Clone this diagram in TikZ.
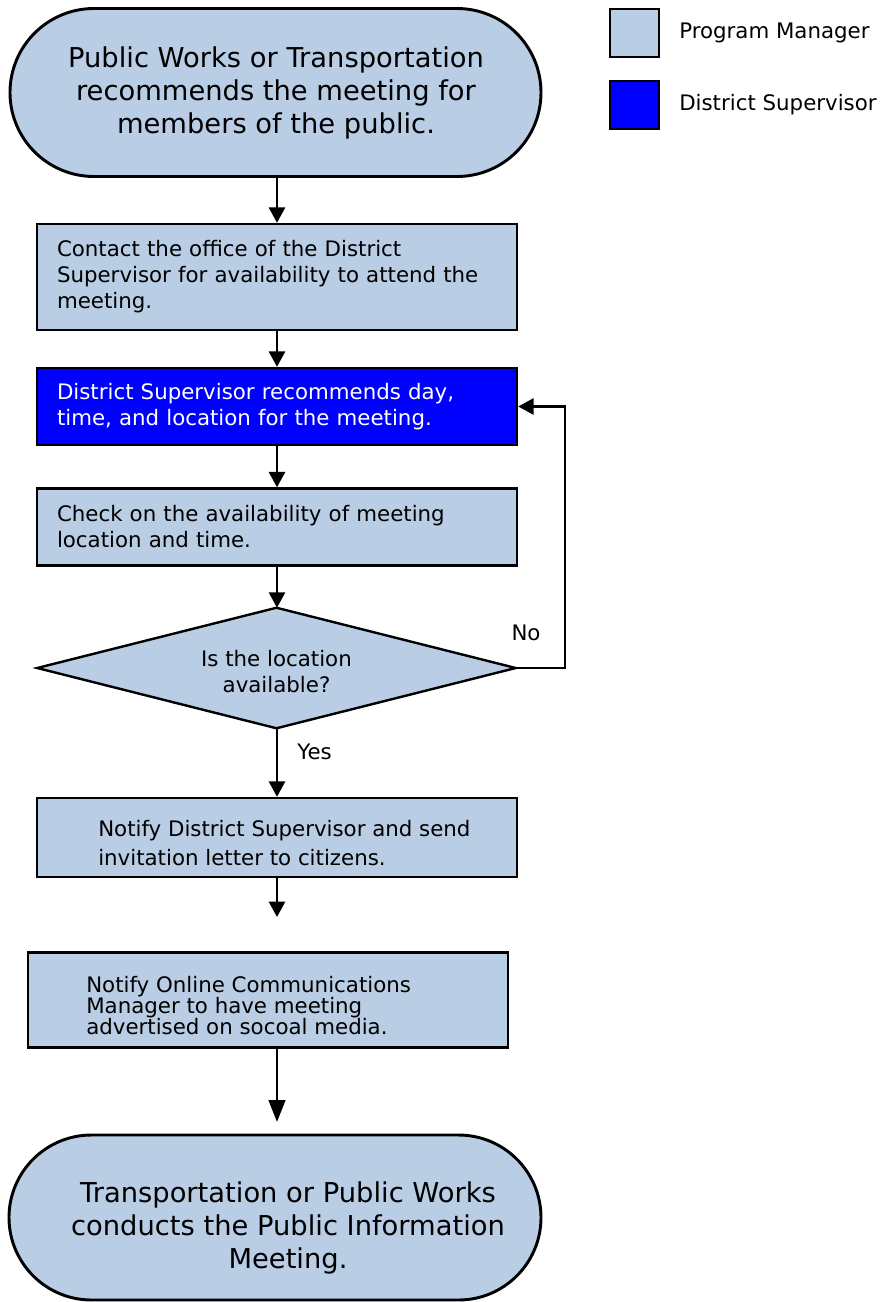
\documentclass[tikz,border=0pt]{standalone}
\usepackage{fontspec}
\setmainfont{DejaVu Sans}
\usetikzlibrary{arrows.meta,shapes.misc}
\definecolor{pmblue}{RGB}{185,205,229}
\definecolor{dsblue}{RGB}{0,0,255}
\tikzset{
  boxtext/.style={font=\fontsize{16}{19.5}\selectfont},
  termtext/.style={align=center, font=\fontsize{20.5}{24.75}\selectfont, inner sep=0pt},
  terminal/.style={rounded rectangle, draw=black, line width=2.2pt, fill=pmblue, inner sep=0pt},
  process/.style={rectangle, draw=black, line width=1.8pt, fill=pmblue,
    align=left, boxtext, minimum width=360pt, inner ysep=0pt},
  frame/.style={rectangle, inner sep=0pt},
  legendbox/.style={rectangle, draw=black, line width=1.8pt,
    minimum width=36.75pt, minimum height=36pt, inner sep=0pt},
  flow/.style={line width=1.9pt, -{Triangle[length=11.5pt,width=12pt]}},
  bigflow/.style={line width=1.9pt, -{Triangle[length=16.5pt,width=12.5pt]}},
  lbl/.style={boxtext, inner sep=0pt}
}
\begin{document}
\begin{tikzpicture}[x=0.75pt,y=-0.75pt]
\useasboundingbox (0,0) rectangle (881,1302);

% start / end terminators
\node[terminal, minimum width=398.25pt, minimum height=126pt] (start) at (275.5,92.5) {};
\node[termtext] (starttext) at (276,92.5)
  {Public Works or Transportation\\recommends the meeting for\\members of the public.};
\node[terminal, minimum width=399pt, minimum height=123.75pt] (finish) at (275,1217.5) {};
\node[termtext] (finishtext) at (288,1228)
  {Transportation or Public Works\\conducts the Public Information\\Meeting.};

% process steps
\node[process, minimum height=79.5pt, text width=330pt, inner xsep=15pt] (contact) at (277,277)
  {Contact the office of the District\\Supervisor for availability to attend the\\meeting.};
\node[process, fill=dsblue, text=white, minimum height=57.75pt, text width=330pt, inner xsep=15pt] (recommend) at (277,406.5)
  {District Supervisor recommends day,\\time, and location for the meeting.};
\node[process, minimum height=57.75pt, text width=330pt, inner xsep=15pt] (check) at (277,527)
  {Check on the availability of meeting\\location and time.};

% decision diamond
\node[frame, minimum width=358.5pt, minimum height=90pt] (avail) at (276.5,668) {};
\filldraw[fill=pmblue, draw=black, line width=1.8pt, line join=miter]
  (avail.north) -- (avail.east) -- (avail.south) -- (avail.west) -- cycle;
\node[lbl, align=center] (availtext) at (276.5,672) {Is the location\\available?};

% notification steps
\node[process, minimum height=59.25pt] (notify) at (277,837.5) {};
\node[lbl, align=left, anchor=west, font=\fontsize{16}{21.75}\selectfont] (notifytext) at (98,843.5)
  {Notify District Supervisor and send\\invitation letter to citizens.};
\node[process, minimum height=71pt] (online) at (268,1000) {};
\node[lbl, align=left, anchor=west, font=\fontsize{16}{15.75}\selectfont] (onlinetext) at (86,1006)
  {Notify Online Communications\\Manager to have meeting\\advertised on socoal media.};

% free arrow ends
\coordinate (gapA) at (277,917);
\coordinate (gapB) at (277,1122);

% connectors
\draw[flow] (start.south -| contact.north) -- (contact.north);
\draw[flow] (contact.south) -- (recommend.north);
\draw[flow] (recommend.south) -- (check.north);
\draw[flow] (check.south) -- (check.south |- avail.north);
\draw[flow] (avail.south -| notify.north) -- (notify.north);
\draw[flow] (avail.east) -- ++(49,0) |- (recommend.east);
\draw[flow] (notify.south) -- (gapA);
\draw[bigflow] (online.south -| gapB) -- (gapB);

% branch labels
\node[lbl] (yes) at (314.5,752) {Yes};
\node[lbl] (no) at (526,633) {No};

% legend
\node[legendbox, fill=pmblue] (keyPM) at (634.5,33) {};
\node[legendbox, fill=dsblue] (keyDS) at (634.5,105) {};
\node[lbl, anchor=west] (keyPMtext) at (679,33) {Program Manager};
\node[lbl, anchor=west] (keyDStext) at (679,105) {District Supervisor};
\end{tikzpicture}
\end{document}
